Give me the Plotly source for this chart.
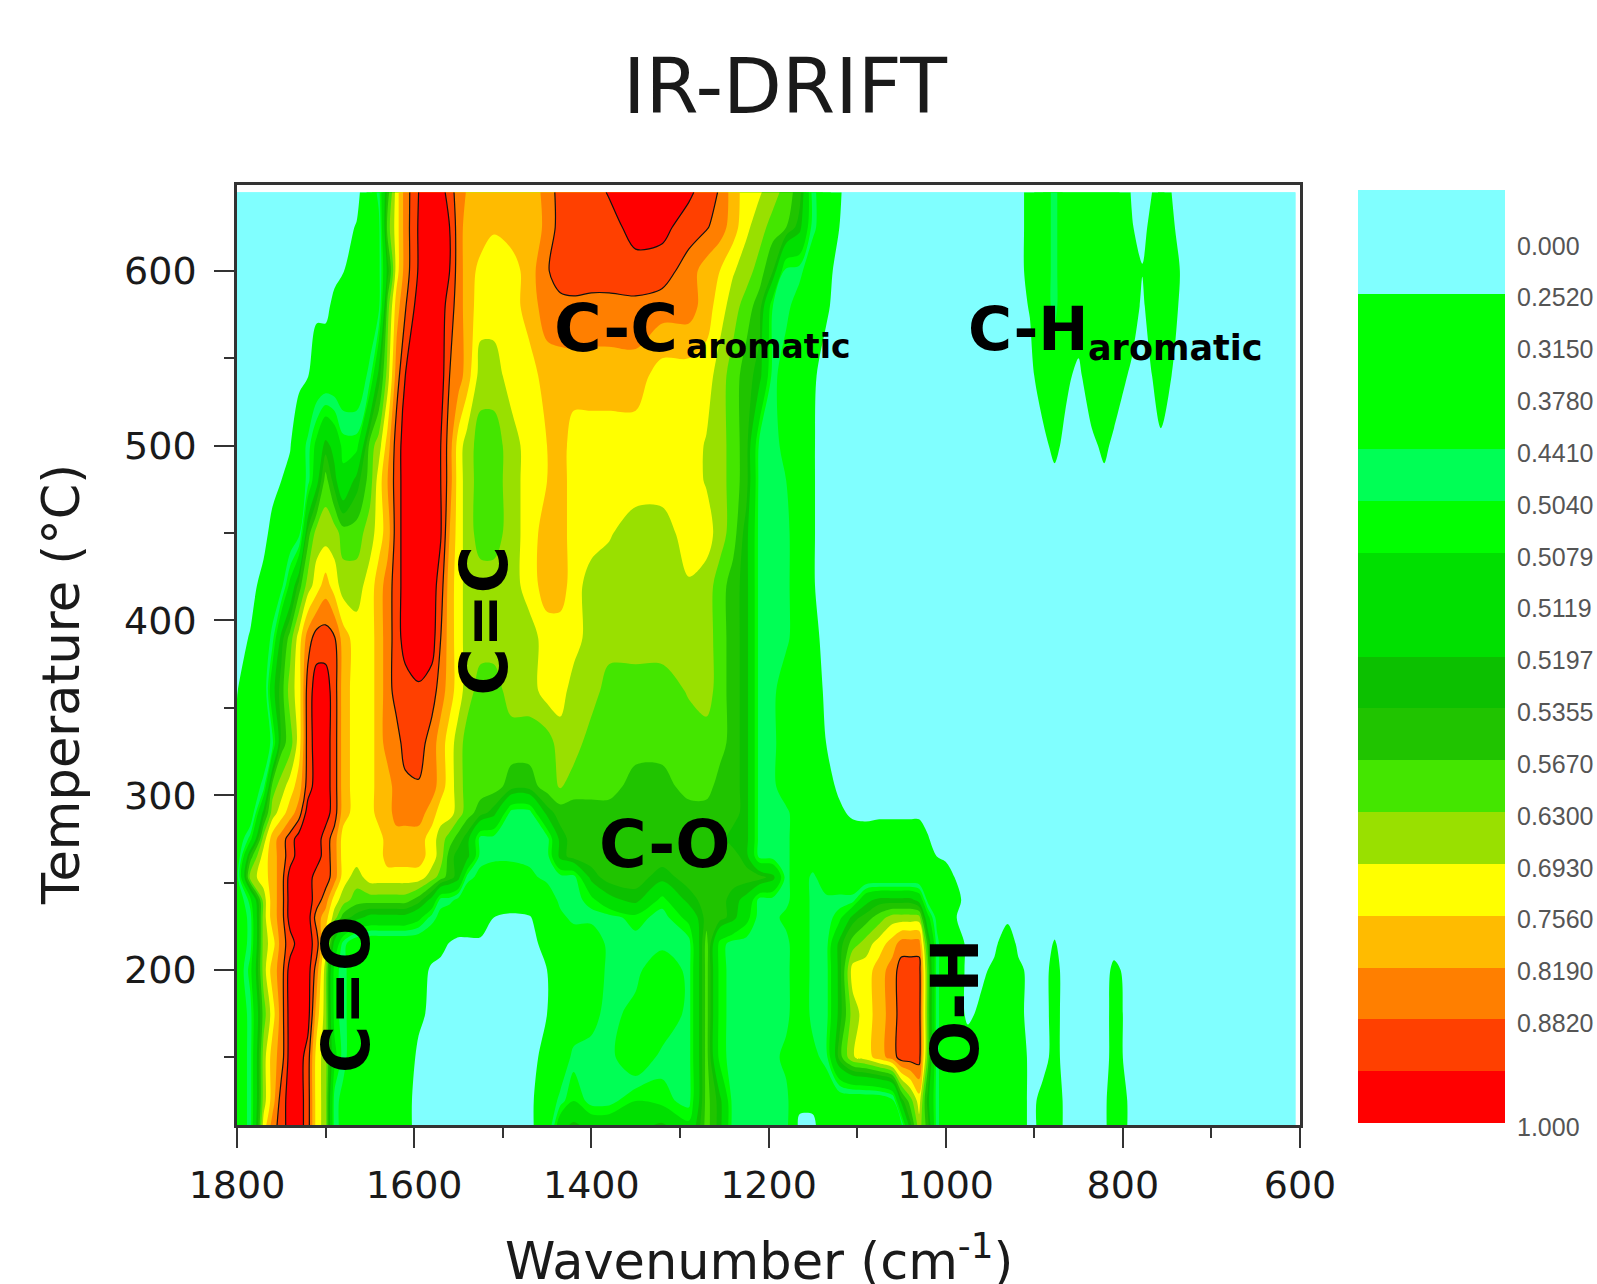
import plotly.graph_objects as go

W, H = 1597, 1284
FONT = "DejaVu Sans"

# Wavenumber columns (cm-1), in four groups
wn_a = [1800,1785,1770,1760,1750,1740,1730,1720,1710,1700,1690,1680,1665,1650]
wn_b = [1640,1630,1620,1610,1595,1580,1570,1560,1550,1540,1525]
wn_c = [1510,1490,1470,1450,1435,1420,1400,1380,1350,1320,1290,1270,1255,1240,1225,1210,1195,1180,1165,1150,1135,1120]
wn_d = [1105,1090,1075,1060,1050,1040,1030,1020,1010,1000,990,975,960,945,930,918,905,890,877,865,850,835,821,810,790,778,767,757,745,735,700,650,605]

temperature = [110,125,150,175,200,215,230,240,253,265,275,290,305,330,360,390,420,450,480,500,540,580,600,625,645]

# Intensity, as the index of the colour-bar band (one row per temperature)
z_a = [
 [3,5,13,15,16,17,17,16,13,12,5,4,3,3],
 [3,5,12,14,16,17,17,16,13,12,5,4,3,3],
 [3,5,12,14,15,17,17,16,13,12,7,5,3,3],
 [3,5,11,13,15,17,17,17,14,12,6,5,3,3],
 [3,6,12,14,15,17,17,17,15,12,6,5,3,3],
 [3,5,12,13,15,16,17,17,16,13,8,5,3,3],
 [3,5,12,14,15,17,17,17,15,14,12,10,9,8],
 [3,6,12,14,15,17,17,17,16,15,13,12,11,11],
 [4,12,13,14,15,17,17,17,16,16,15,13,12,13],
 [3,10,13,14,15,16,17,17,17,16,15,13,13,13],
 [3,6,12,14,15,16,17,17,17,16,15,13,13,13],
 [3,3,9,12,13,14,15,17,17,17,16,14,13,13],
 [3,3,5,11,12,13,14,16,17,17,16,14,13,13],
 [2,3,3,5,10,11,13,16,17,17,16,14,13,13],
 [1.4,3,3,8,10,12,13,16,17,17,16,14,13,13],
 [1,1.6,3,5,9,11,13,15,16,16,15.6,14,13,13],
 [1,1,2,3,4,7,10,12,13,14,13,12,12,13],
 [1,1,1,2,3,3,4,10,12,12,12,11,11,12],
 [1,1,1,1,1.5,2,3,5,8,11,9,7,9,11],
 [1,1,1,1,1,1.4,3,5,7,9,8,6,6,11],
 [1,1,1,1,1,1,1,1.4,3,3,3,3,3,5],
 [1,1,1,1,1,1,1,1,1,1,2,3,3,3],
 [1,1,1,1,1,1,1,1,1,1,1,1.4,3,3],
 [1,1,1,1,1,1,1,1,1,1,1,1,1.6,3],
 [1,1,1,1,1,1,1,1,1,1,1,1,1,3],
]
z_b = [
 [3,3,3,2,1,1,1,1,1,1,1],
 [3,3,3,2,1,1,1,1,1,1,1],
 [3,3,3,3,1,1,1,1,1,1,1],
 [3,3,3,3,2,1,1,1,1,1,1],
 [3,3,3,3,3,1,1,1,1,1,1],
 [3,3,3,3,3,3,2,1.4,1,1,1],
 [8,8,8,8,7,5,4,3,3,3,3],
 [11,11,11,11,10,8,5,5,4,3,3],
 [13,13,13,13,13,12,11,10,9,5,4],
 [13,14,14,14,14,13,12,10,9,9,5],
 [13,14,14,14,14,13,12,11,10,9,5],
 [14,14,15,15,15,14,13,13,12,11,10],
 [14,14,15,15.2,15.4,15,14,13,12,11,11],
 [14,15,15,16,16,15,14,13,12,11,11],
 [14,15,16,16,16.4,16,15,14,13,12,11],
 [14,15,16,17,17,17,15.5,14,13,12,12],
 [14,15,16,17,17,17,16,14,13,12,12],
 [13,14,16,17,17,17,16.6,14.5,13,12,11],
 [13,14.5,16,17,17,17,16.5,15,13,12,11],
 [12,14,16,17,17,17,16.5,15,13,12,11],
 [9,12,15,16.5,17,17,17,15.5,15,14,12],
 [4,11,14,15.4,17,17,17,16,15,14,13],
 [4,9,13,15,16.6,17,17,16.5,15,14,13.2],
 [4,11,13,15,16.6,17,17,16.5,15,14,14],
 [5,10,13,15,16.5,17,17,16,15,14.4,14],
]
z_c = [
 [1,1,1,3,8,9,8,8,8,9,7,11,9,5,5,5,5,5,1,1,3,3],
 [1,1,1,3,5,6.5,5,5,6.5,6,5,11,9,5,5,5,5,5,2,2,3,3],
 [1,1,1,2,3,5,5,5,3,5,5,11,6,5,5,5,5,4,3,4,5,10],
 [1,1,1,1.5,3,3,4,5,4,3,5,11,6,5,5,5,5,5,3,5,5,9],
 [1,1,1,1.5,3,3,3,5,5,3,5,11,6,5,5,5,5,5,3,5,5,9],
 [1,1,1,2,3,3,3,5,5,5,5,11,6,5,5,5,5,5,3,5,5,9],
 [1.5,1,1.3,3,4,5,5,5,6,5,7,10,10,9,7,5,5,4,3,5,5,6],
 [3,3,3,3,5,5,6,8,9,6,9,10,10,9,8,5,5,5,3,5,5,5],
 [3,3,4,5,5,5,9,10,10,9,10,10,10,10,10,10,9,5,3,5,3,3],
 [5,5,5,5,9,10,10,10,10,10,10,10,10,10,9,5,5,5,3,3,3,3],
 [5,5,5,5,9,10,10,10,10,10,10,10,10,9,9,5,5,5,3,3,3,3],
 [9,5,5,9,10,10,10,10,10,10,10,10,10,10,9,5,5,5,3,3,3,2],
 [11,10,10,11,11.6,11,11,11,10,10,11,11,10,10,9,5,5,3,3,3,2.5,1],
 [11,11,11,11,12,12,11,11,11,11,11,11,11,10,9,5,5,3,3,3,1.5,1],
 [11,12,12,13,13,12,12,11,11,11,11.6,12,11,10,9,5,5,3,3,3,1,1],
 [12,12,12,13,13,13,12,12,12,12,12,12,11,10,9,5,5,5,3,2,1,1],
 [12,12,13,14,14,13,12,12,12,12,12.4,12,11,10,9,5,5,5,3,1.6,1,1],
 [11,12,13,14,14,13,13,12.6,12,12,13,13,12,11,9,5,5,5,3,1.6,1,1],
 [11,12,13,13.5,14,13,13,13,13,13,13,12.4,12,11,10,5,5,4.5,3,1.6,1,1],
 [11,12,13,13.5,14,13,13,13,13,13,13,12.4,12,11,10,5,5,4,3,1.6,1,1],
 [12,13,13,14,14,14,14,14,14,13,13,13,12,11,10,9,5,3.5,3,1.7,1,1],
 [13,13,14,15,15.2,15.3,15.2,15.2,15.3,15,15,14,13,12,11,10,5.5,5,3.5,3,1.7,1],
 [13,13,14,15.4,16,16,16,16,16,16,15,14,13.5,12.6,12,11,9.5,5,5,3,2,1],
 [13.6,14,14,14.7,16,16,16,16,17,16.8,16,15.6,15,14,12.7,12,11,10.5,9,5,3,1.5],
 [14,14,14,14.8,16,16,16,16.6,17,17,16.7,16,15.4,14,13,12.6,12,11,10,5,3,1.6],
]
z_d = [
 [3,3,3,3,4,9,12,10,5,3, 3,3,3,3,3,3,1,2,3,1, 1,1,1,3,1,1,1,1,1,1, 1,1,1],
 [3,3,3,4,9,11,13,9,5,3, 3,3,3,3,3,3,1,2,3,1, 1,1,1,3,1,1,1,1,1,1, 1,1,1],
 [12.4,13,14,15,16,16,16,11,5,3, 3,3,3,3,3,3,1,1,2,1, 1,1,1,2,1,1,1,1,1,1, 1,1,1],
 [12,13,14,15,16,16,16,11,5,3, 3,1,2,3,3,2,1,1,2,1, 1,1,1,2,1,1,1,1,1,1, 1,1,1],
 [13,13,14,15,16,16,16,11,5,3, 3,1,1,2,3,2,1,1,2,1, 1,1,1,1.8,1,1,1,1,1,1, 1,1,1],
 [11,12,13,14,15,15,15,10,5,3, 3,1,1,1,3,1,1,1,1.6,1, 1,1,1,1,1,1,1,1,1,1, 1,1,1],
 [9,10,11,12,12,12,12,7,4,3, 1.6,1,1,1,1,1,1,1,1,1, 1,1,1,1,1,1,1,1,1,1, 1,1,1],
 [5,8,9,9,9,9,8,4,3,3, 2,1,1,1,1,1,1,1,1,1, 1,1,1,1,1,1,1,1,1,1, 1,1,1],
 [3,3,3,3,3,3,3,3,3,3, 1.5,1,1,1,1,1,1,1,1,1, 1,1,1,1,1,1,1,1,1,1, 1,1,1],
 [3,3,3,3,3,3,3,3,1.5,1, 1,1,1,1,1,1,1,1,1,1, 1,1,1,1,1,1,1,1,1,1, 1,1,1],
 [3,2.5,3,3,3,3,3,1.6,1,1, 1,1,1,1,1,1,1,1,1,1, 1,1,1,1,1,1,1,1,1,1, 1,1,1],
 [1]*33,
 [1]*33,
 [1]*33,
 [1]*33,
 [1]*33,
 [1]*33,
 [1]*33,
 [1]*33,
 [1,1,1,1,1,1,1,1,1,1, 1,1,1,1,1,1,1,1,2,1, 1,1,2,1,1,1,1,1,1,1, 1,1,1],
 [1,1,1,1,1,1,1,1,1,1, 1,1,1,1,1,1,1,2.5,3,2, 1,3,3,3,1,1,1.5,3,1.5,1, 1,1,1],
 [1,1,1,1,1,1,1,1,1,1, 1,1,1,1,1,1,1.6,3.5,5,3, 3,3,3,3,3,1,3,3,3,1, 1,1,1],
 [1,1,1,1,1,1,1,1,1,1, 1,1,1,1,1,1,2,3.5,5,3, 3,3,3,3,3,1.6,3,3,3,1.4, 1,1,1],
 [1,1,1,1,1,1,1,1,1,1, 1,1,1,1,1,1,2,3.5,5,3, 3,3,3,3,1.6,1,2,3,1.8,1, 1,1,1],
 [1,1,1,1,1,1,1,1,1,1, 1,1,1,1,1,1,2,3.5,5,3, 3,3,3,3,1.4,1,1.5,3,1.5,1, 1,1,1],
]

band_colors = ["#80ffff","#80ffff","#00ff00","#00ff00","#00ff00","#00ff55","#00ff00","#00e000","#00e000",
               "#0cc000","#20c400","#44e600","#99e000","#ffff00","#ffbb00","#ff7f00","#ff4000","#ff0000"]
bar_tick_pos = [1,2,3,4,5,6,7,8,9,10,11,12,13,14,15,16,18]
bar_tick_text = ["0.000","0.2520","0.3150","0.3780","0.4410","0.5040","0.5079","0.5119","0.5197","0.5355",
                 "0.5670","0.6300","0.6930","0.7560","0.8190","0.8820","1.000"]

x_ticks_label_step = 200
wavenumber = wn_a + wn_b + wn_c + wn_d
z = [a + b + c + d for a, b, c, d in zip(z_a, z_b, z_c, z_d)]
for i, row in enumerate(z):
    assert len(row) == len(wavenumber), (i, len(row), len(z_a[i]), len(z_b[i]), len(z_c[i]), len(z_d[i]))
assert len(z) == len(temperature)

n = len(band_colors)
cs_contour = [[0, band_colors[0]]]
for k, c in enumerate(band_colors):
    cs_contour += [[(k + 0.5) / 19, c], [(k + 1.5) / 19, c]]
cs_contour.append([1, band_colors[-1]])

cs_bar = []
for k, c in enumerate(band_colors):
    cs_bar += [[k / n, c], [(k + 1) / n, c]]

fig = go.Figure()
fig.add_trace(go.Contour(
    x=wavenumber, y=temperature, z=z, colorscale=cs_contour, autocontour=False,
    contours=dict(start=-0.5, end=17.5, size=1, coloring="fill", showlines=False),
    line=dict(width=0, smoothing=0.9), showscale=False, hoverinfo="skip", name="IR-DRIFT"))
fig.add_trace(go.Contour(
    x=wavenumber, y=temperature, z=z, autocontour=False,
    contours=dict(start=15.5, end=16.5, size=1, coloring="none"),
    line=dict(color="#111111", width=1.2, smoothing=0.9), showscale=False, hoverinfo="skip", name="lines"))
fig.add_trace(go.Heatmap(
    x=[0], y=[k + 0.5 for k in range(n)], z=[[k] for k in range(n)], zmin=-0.5, zmax=n - 0.5,
    colorscale=cs_bar, showscale=False, hoverinfo="skip", xaxis="x2", yaxis="y2", name="scale"))

INK = "#1a1a1a"
tick_font = dict(family=FONT, size=38, color=INK)
title_font = dict(family=FONT, size=51, color=INK)
fig.update_layout(
    width=W, height=H, margin=dict(l=0, r=0, t=0, b=0, autoexpand=False), autosize=False,
    paper_bgcolor="white", plot_bgcolor="white", showlegend=False,
    title=dict(text="IR-DRIFT", x=785 / W, y=1 - 86 / H, xanchor="center", yanchor="middle", automargin=False,
               font=dict(family=FONT, size=76.5, color=INK)),
    xaxis=dict(domain=[237 / W, 1300 / W], range=[1800, 600], tick0=600, dtick=x_ticks_label_step, automargin=False,
               ticks="outside", ticklen=20, tickwidth=2, tickcolor="#333333", tickfont=tick_font, ticklabelstandoff=5,
               minor=dict(dtick=100, ticks="outside", ticklen=10, tickwidth=2, tickcolor="#333333"),
               showline=True, linecolor="#333333", linewidth=2.5, mirror=True, showgrid=False, zeroline=False),
    yaxis=dict(domain=[(H - 1125) / H, (H - 185) / H], range=[111.3, 649.2], tick0=0, dtick=100, automargin=False,
               ticks="outside", ticklen=20, tickwidth=2, tickcolor="#333333", tickfont=tick_font, ticklabelstandoff=10,
               minor=dict(dtick=50, ticks="outside", ticklen=10, tickwidth=2, tickcolor="#333333"),
               showline=True, linecolor="#333333", linewidth=2.5, mirror=True, showgrid=False, zeroline=False),
    xaxis2=dict(domain=[1358 / W, 1505 / W], anchor="y2", visible=False, range=[-0.5, 0.5], automargin=False),
    yaxis2=dict(domain=[(H - 1123) / H, (H - 190) / H], anchor="x2", side="right", range=[18, 0], automargin=False,
                tickmode="array", tickvals=bar_tick_pos, ticktext=bar_tick_text, ticklabelshift=-4,
                ticks="outside", ticklen=6, tickcolor="rgba(0,0,0,0)", showline=False, showgrid=False,
                zeroline=False, tickfont=dict(family="Liberation Sans", size=25, color="#555555")),
)

fig.add_annotation(x=759 / W, y=1 - 1258 / H, xref="paper", yref="paper", text="Wavenumber (cm<sup>-1</sup>)",
                   showarrow=False, font=title_font, xanchor="center", yanchor="middle")
fig.add_annotation(x=61 / W, y=1 - 685 / H, xref="paper", yref="paper", text="Temperature (°C)",
                   showarrow=False, font=title_font, textangle=-90, xanchor="center", yanchor="middle")

big = dict(family=FONT, size=65, color="black")
labels = [
    ("<b>C-C</b>", 1444, 567, 0, big, "left"),
    ("<b>aromatic</b>", 1295, 557, 0, dict(family=FONT, size=33, color="black"), "left"),
    ("<b>C-H</b>", 977, 567, 0, dict(family=FONT, size=60, color="black"), "left"),
    ("<b>aromatic</b>", 842, 556, 0, dict(family=FONT, size=35, color="black"), "left"),
    ("<b>C-O</b>", 1317, 272, 0, big, "center"),
    ("<b>C=C</b>", 1521, 400, -90, big, "center"),
    ("<b>C=O</b>", 1676, 186, -90, big, "center"),
    ("<b>O-H</b>", 989, 179, -90, big, "center"),
]
for text, xv, yv, ang, f, anchor in labels:
    fig.add_annotation(x=xv, y=yv, text=text, showarrow=False, textangle=ang, font=f,
                       xanchor=anchor, yanchor="middle", xref="x", yref="y")

fig.write_html("out.html", config=dict(displayModeBar=False),
               post_script="document.body.style.margin='0';document.body.style.overflow='hidden';")
